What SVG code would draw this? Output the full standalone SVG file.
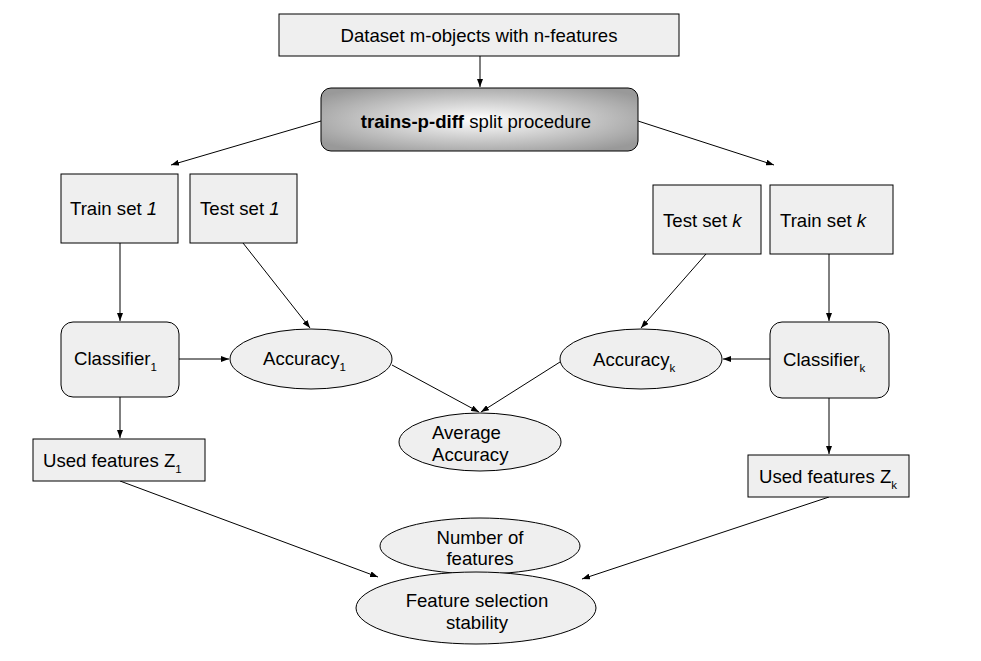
<svg xmlns="http://www.w3.org/2000/svg" width="981" height="661" viewBox="0 0 981 661">
<style>
  .box { fill: #efefef; stroke: #000; stroke-width: 1; }
  .ell { fill: #efefef; stroke: #000; stroke-width: 1; }
  text { font-family: "Liberation Sans", Arial, sans-serif; font-size: 18.6px; fill: #000; }
  .c { text-anchor: middle; }
  .sub { font-size: 11.5px; }
  .edge { stroke: #000; stroke-width: 1; fill: none; marker-end: url(#arr); }
</style>
<defs>
  <marker id="arr" markerUnits="userSpaceOnUse" markerWidth="8" markerHeight="6" refX="8" refY="3" orient="auto">
    <path d="M0,0 L8,3 L0,6 z" fill="#000"/>
  </marker>
  <radialGradient id="grad" cx="0.5" cy="0.5" r="0.62">
    <stop offset="0" stop-color="#ffffff"/>
    <stop offset="1" stop-color="#999999"/>
  </radialGradient>
</defs>
<rect width="981" height="661" fill="#fff"/>

<g id="connectors">
  <line class="edge" x1="480" y1="56" x2="480" y2="87"/>
  <line class="edge" x1="321" y1="121" x2="171" y2="165"/>
  <line class="edge" x1="638" y1="121" x2="774" y2="165"/>
  <line class="edge" x1="120" y1="243" x2="120" y2="321"/>
  <line class="edge" x1="243" y1="243" x2="310" y2="328"/>
  <line class="edge" x1="179" y1="359" x2="229" y2="359"/>
  <line class="edge" x1="829" y1="254" x2="829" y2="321"/>
  <line class="edge" x1="706" y1="254" x2="641" y2="328"/>
  <line class="edge" x1="770" y1="359" x2="723" y2="359"/>
  <line class="edge" x1="392" y1="365" x2="479" y2="412"/>
  <line class="edge" x1="560" y1="362" x2="481" y2="412"/>
  <line class="edge" x1="120" y1="397" x2="120" y2="438"/>
  <line class="edge" x1="829" y1="398" x2="829" y2="454"/>
  <line class="edge" x1="120" y1="481" x2="378" y2="577"/>
  <line class="edge" x1="829" y1="497" x2="582" y2="579"/>
</g>

<g id="dataset">
  <rect class="box" x="279" y="14" width="400" height="42"/>
  <text class="c" x="479" y="42">Dataset m-objects with n-features</text>
</g>
<g id="split">
  <rect x="321" y="88" width="317" height="63" rx="10" ry="10" fill="url(#grad)" stroke="#000" stroke-width="1"/>
  <text class="c" x="476" y="128"><tspan font-weight="bold">trains-p-diff</tspan> split procedure</text>
</g>
<g id="train1">
  <rect class="box" x="61" y="174" width="117" height="69"/>
  <text x="70" y="215">Train set <tspan font-style="italic">1</tspan></text>
</g>
<g id="test1">
  <rect class="box" x="190" y="174" width="107" height="69"/>
  <text x="200" y="215">Test set <tspan font-style="italic">1</tspan></text>
</g>
<g id="testk">
  <rect class="box" x="653" y="185" width="108" height="69"/>
  <text x="663" y="227">Test set <tspan font-style="italic">k</tspan></text>
</g>
<g id="traink">
  <rect class="box" x="770" y="185" width="123" height="69"/>
  <text x="780" y="227">Train set <tspan font-style="italic">k</tspan></text>
</g>
<g id="classifier1">
  <rect class="box" x="61" y="322" width="118" height="75" rx="12" ry="12"/>
  <text x="74" y="365">Classifier<tspan class="sub" dy="6">1</tspan></text>
</g>
<g id="accuracy1">
  <ellipse class="ell" cx="311" cy="359" rx="81" ry="30"/>
  <text x="263" y="365">Accuracy<tspan class="sub" dy="6">1</tspan></text>
</g>
<g id="classifierk">
  <rect class="box" x="770" y="322" width="119" height="76" rx="12" ry="12"/>
  <text x="783" y="366">Classifier<tspan class="sub" dy="6">k</tspan></text>
</g>
<g id="accuracyk">
  <ellipse class="ell" cx="641" cy="359" rx="81" ry="30"/>
  <text x="593" y="366">Accuracy<tspan class="sub" dy="6">k</tspan></text>
</g>
<g id="average">
  <ellipse class="ell" cx="480" cy="442" rx="81" ry="29"/>
  <text x="432" y="439">Average</text>
  <text x="432" y="461">Accuracy</text>
</g>
<g id="used1">
  <rect class="box" x="33" y="439" width="172" height="42"/>
  <text x="43" y="467">Used features Z<tspan class="sub" dy="6">1</tspan></text>
</g>
<g id="usedk">
  <rect class="box" x="748" y="455" width="161" height="42"/>
  <text x="759" y="483">Used features Z<tspan class="sub" dy="6">k</tspan></text>
</g>
<g id="numfeatures">
  <ellipse class="ell" cx="480" cy="546" rx="100" ry="28"/>
  <text class="c" x="480" y="544">Number of</text>
  <text class="c" x="480" y="565">features</text>
</g>
<g id="stability">
  <ellipse class="ell" cx="476" cy="608" rx="120" ry="36"/>
  <text class="c" x="477" y="607">Feature selection</text>
  <text class="c" x="477" y="629">stability</text>
</g>
</svg>
